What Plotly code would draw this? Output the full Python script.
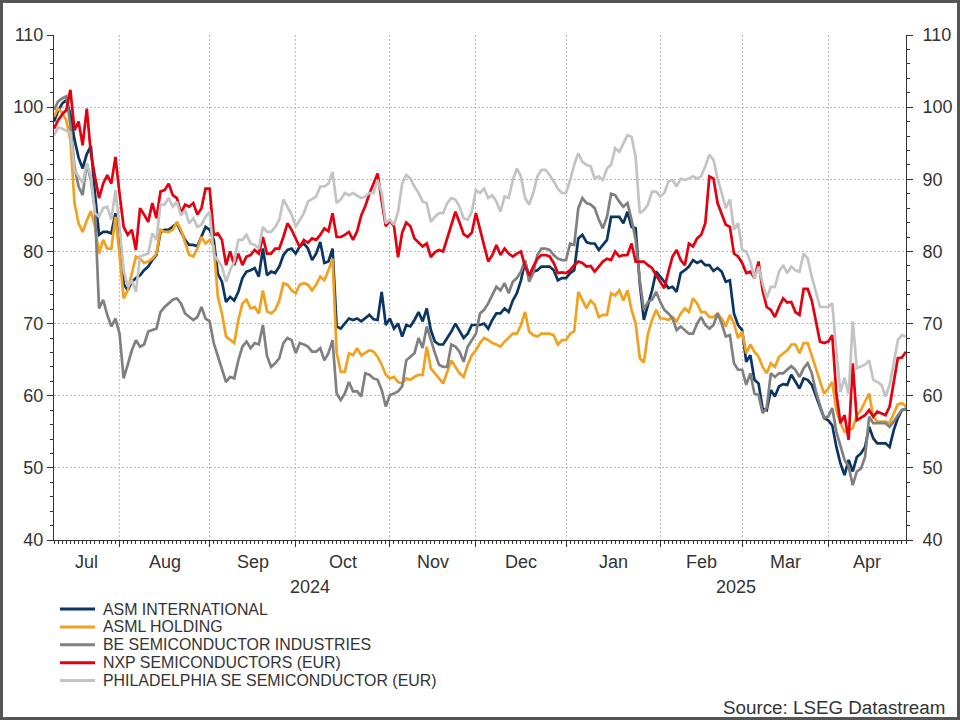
import pandas as pd
import plotly.graph_objects as go

# ---------------- data (weekday series, rebased) ----------------
START_DATE = "2024-07-10"
N_DAYS = 209
dates = pd.bdate_range(START_DATE, periods=N_DAYS)

SERIES_NAMES = ["ASM INTERNATIONAL", "ASML HOLDING", "BE SEMICONDUCTOR INDUSTRIES",
                "NXP SEMICONDUCTORS (EUR)", "PHILADELPHIA SE SEMICONDUCTOR (EUR)"]
SERIES_COLORS = ["#0b3562", "#f2a11f", "#808080", "#e3000f", "#c3c3c3"]

MONTH_LABELS = ["Jul", "Aug", "Sep", "Oct", "Nov", "Dec", "Jan", "Feb", "Mar", "Apr"]
YEAR_LABELS = ["2024", "2025"]
SOURCE_TEXT = "Source: LSEG Datastream"

asm = [
    98.0, 99.5, 100.5, 101.0, 99.0, 95.5, 93.0, 91.5, 93.5, 94.6,
    88.0, 82.3, 82.7, 82.7, 82.5, 85.3, 82.8, 75.5, 74.6, 75.8,
    76.3, 76.7, 77.4, 77.9, 78.8, 79.5, 82.7, 83.0, 83.0, 83.4,
    83.9, 82.7, 81.6, 80.9, 80.9, 80.7, 82.0, 83.4, 83.0, 81.6,
    76.9, 75.8, 73.0, 73.7, 73.2, 74.4, 76.3, 77.2, 77.4, 77.7,
    76.5, 80.4, 76.7, 77.2, 77.0, 77.9, 79.5, 80.2, 80.4, 79.7,
    80.7, 81.1, 80.4, 78.8, 79.7, 81.3, 78.4, 78.6, 80.4, 69.6,
    69.3, 70.0, 70.7, 70.5, 70.7, 70.3, 70.7, 71.2, 70.6, 70.5,
    74.4, 69.8, 70.7, 69.3, 70.0, 68.2, 69.8, 69.6, 70.5, 71.6,
    70.3, 72.1, 69.1, 67.5, 67.1, 67.1, 68.0, 68.9, 70.0, 68.9,
    68.0, 68.6, 69.8, 69.8, 69.8, 70.0, 69.3, 70.5, 71.4, 71.4,
    72.1, 71.6, 73.2, 74.2, 76.0, 78.6, 76.5, 77.2, 77.4, 77.9,
    77.9, 77.9, 77.4, 76.0, 76.3, 76.3, 77.0, 77.4, 81.8, 82.3,
    81.3, 81.1, 81.1, 80.2, 80.9, 81.6, 84.8, 84.8, 84.8, 83.9,
    85.5, 83.4, 83.2, 75.6, 70.5, 72.6, 74.6, 77.2, 76.5, 75.8,
    74.9, 75.1, 74.4, 77.0, 77.4, 77.9, 78.8,
    78.4, 78.7, 78.1, 78.1, 77.3, 77.7, 77.2, 75.8, 76.0, 71.4,
    69.8, 69.1, 64.7, 65.6, 62.2, 61.7, 58.2, 58.0, 60.8, 59.9,
    61.3, 61.6, 61.5, 62.9, 61.9, 61.0, 62.4, 62.2, 61.5, 59.9,
    58.2, 56.9, 56.6, 55.9, 52.9, 50.6, 49.0, 51.1, 49.5, 51.5,
    52.0, 52.9, 55.7, 54.1, 53.4, 53.4, 53.4, 52.9, 55.2, 56.9,
    58.0, 58.2,
]

asml = [
    98.7, 99.8, 99.2, 98.2, 95.5, 86.7, 83.9, 82.7, 84.3, 85.6,
    83.4, 79.7, 81.6, 80.4, 80.4, 84.8, 79.5, 73.5, 74.6, 76.9,
    79.3, 79.0, 78.4, 78.6, 79.0, 79.7, 83.0, 82.7, 82.7, 83.0,
    84.1, 83.0, 81.1, 79.5, 79.3, 80.4, 82.0, 81.1, 81.6, 80.7,
    73.7, 71.4, 68.2, 67.7, 67.3, 70.5, 72.8, 73.3, 72.1, 72.3,
    71.4, 74.6, 71.7, 71.4, 71.9, 73.2, 75.6, 75.4, 74.6, 74.2,
    75.4, 75.6, 75.4, 74.6, 75.4, 76.5, 76.0, 77.4, 79.0, 66.0,
    63.3, 63.3, 65.9, 65.6, 66.6, 65.6, 65.9, 66.3, 66.1, 65.4,
    64.3, 62.9, 62.4, 62.6, 61.9, 61.7, 62.4, 62.2, 62.6, 62.9,
    62.9, 66.8, 63.8, 63.1, 62.4, 61.7, 63.3, 64.9, 64.0, 63.1,
    62.6, 64.3, 65.6, 66.3, 67.3, 68.0, 67.7, 67.3, 67.1, 66.8,
    67.5, 68.0, 68.6, 68.6, 69.8, 71.6, 68.9, 68.4, 68.2, 68.6,
    68.6, 68.6, 68.4, 67.1, 67.7, 67.7, 68.6, 68.9, 74.4, 73.2,
    72.1, 73.2, 72.6, 70.9, 71.2, 71.2, 74.2, 73.9, 74.6, 73.2,
    74.6, 71.9, 70.0, 65.2, 64.6, 68.6, 70.5, 71.9, 70.7, 70.7,
    70.5, 70.9, 70.3, 71.4, 72.1, 71.6, 73.5,
    72.8, 71.6, 71.6, 70.9, 70.9, 71.4, 70.7, 69.6, 71.2, 70.0,
    68.0, 68.9, 65.9, 67.1, 66.1, 65.4, 64.0, 63.1, 64.5, 64.0,
    65.4, 65.9, 66.3, 67.1, 67.1, 65.9, 67.3, 67.3, 65.6, 64.0,
    62.2, 60.3, 61.0, 61.9, 58.0, 56.2, 55.0, 55.3, 55.5, 57.3,
    58.0, 59.2, 60.3, 57.1, 56.4, 56.4, 56.4, 56.2, 57.6, 58.8,
    59.0, 58.5,
]

besi = [
    99.6, 100.8, 101.2, 101.5, 97.5, 91.8, 89.0, 87.8, 92.2, 89.9,
    85.7, 72.1, 73.3, 71.2, 69.6, 70.7, 68.6, 62.4, 64.3, 66.3,
    67.7, 66.8, 67.1, 68.9, 69.1, 69.3, 71.6, 72.3, 72.8, 73.3,
    73.5, 72.8, 71.4, 70.9, 70.5, 70.9, 72.3, 70.7, 70.3, 67.3,
    65.4, 63.6, 61.9, 62.6, 62.4, 64.9, 66.8, 67.5, 66.6, 67.3,
    67.1, 69.8, 65.5, 64.0, 64.5, 65.2, 67.3, 68.0, 67.7, 65.9,
    67.3, 67.1, 66.8, 66.1, 66.1, 66.6, 64.9, 65.9, 67.7, 60.3,
    59.4, 60.3, 61.9, 60.6, 60.6, 59.9, 63.1, 62.9, 62.4, 62.2,
    60.8, 58.5, 60.1, 60.3, 60.6, 61.3, 64.9, 65.4, 65.9, 68.0,
    66.6, 69.6, 67.7, 65.9, 64.3, 64.0, 64.0, 67.1, 66.8, 66.1,
    64.7, 66.8, 67.7, 68.6, 71.4, 71.9, 72.8, 74.0, 75.1, 74.6,
    75.6, 74.2, 75.8, 76.3, 77.2, 78.8, 75.8, 77.0, 79.5, 80.4,
    80.4, 80.2, 79.5, 79.0, 78.8, 78.8, 81.1, 80.9, 86.0, 87.4,
    86.7, 86.5, 86.0, 84.4, 83.2, 84.8, 88.0, 87.8, 86.9, 86.2,
    86.7, 84.4, 81.6, 76.0, 71.9, 73.0, 73.3, 74.4, 73.0, 71.9,
    71.4, 70.7, 69.1, 69.6, 69.1, 68.6, 68.6,
    70.0, 70.9, 69.8, 69.3, 69.8, 71.4, 70.0, 68.2, 68.4, 64.5,
    63.6, 63.6, 61.5, 63.1, 60.3, 60.1, 57.6, 58.3, 63.1, 62.6,
    63.1, 63.1, 63.6, 64.1, 63.6, 62.6, 63.8, 64.5, 63.1, 60.6,
    58.7, 56.9, 57.1, 58.3, 55.0, 52.9, 51.1, 50.2, 47.6, 49.5,
    49.9, 51.5, 57.1, 56.2, 56.2, 56.2, 56.2, 55.7, 56.4, 57.3,
    58.0, 58.2,
]

nxp = [
    97.0, 98.2, 99.0, 99.6, 102.4, 96.8, 98.0, 94.7, 99.8, 93.6,
    90.4, 87.4, 89.4, 90.6, 89.4, 93.1, 88.0, 83.4, 82.3, 83.0,
    80.2, 86.0, 85.1, 84.1, 86.7, 84.6, 88.3, 88.5, 89.4, 87.8,
    87.4, 85.3, 86.5, 86.2, 86.7, 85.1, 86.0, 88.7, 88.7, 82.3,
    82.5, 81.6, 78.1, 80.0, 78.1, 79.7, 78.1, 79.3, 79.5, 80.2,
    79.7, 82.0, 79.7, 79.7, 80.4, 80.4, 82.0, 83.9, 83.0, 81.8,
    80.6, 81.6, 81.2, 81.8, 81.6, 82.3, 83.2, 82.8, 85.3, 82.0,
    82.0, 82.3, 82.7, 81.6, 82.8, 85.0, 86.3, 88.0, 89.5, 90.8,
    87.0, 83.5, 84.3, 83.5, 79.2, 82.6, 84.0, 83.5, 81.8, 81.2,
    80.7, 81.1, 79.2, 79.9, 80.2, 80.0, 81.8, 83.8, 85.5, 84.0,
    82.4, 82.0, 82.6, 85.3, 83.0, 80.5, 78.6, 79.5, 80.9, 79.5,
    80.4, 79.7, 79.3, 79.7, 80.0, 77.9, 76.7, 77.9, 79.0, 79.5,
    79.5, 79.3, 78.4, 77.0, 77.1, 77.0, 77.4, 78.1, 78.6, 78.4,
    77.9, 78.0, 77.2, 77.9, 78.6, 79.0, 78.8, 80.0, 79.3, 79.5,
    79.5, 81.1, 78.6, 78.6, 78.6, 78.1, 77.7, 76.7, 75.8, 74.9,
    77.2, 79.3, 80.2, 78.8, 78.1, 81.1, 80.7,
    81.8, 82.3, 83.9, 90.4, 90.1, 86.7, 85.3, 83.7, 83.4, 79.7,
    79.3, 78.4, 77.0, 77.2, 76.3, 78.6, 74.6, 72.3, 71.9, 70.9,
    72.3, 73.5, 72.9, 73.0, 71.6, 71.2, 74.8, 74.8, 73.2, 70.5,
    67.5, 67.3, 67.5, 68.4, 60.3, 56.2, 57.3, 53.9, 64.5, 56.6,
    57.0, 57.3, 58.0, 57.1, 57.8, 57.6, 57.3, 58.5, 61.7, 65.2,
    65.3, 66.1,
]

phlx = [
    96.1, 97.2, 97.0, 96.8, 96.5, 91.3, 90.4, 89.5, 92.2, 90.4,
    85.3, 84.8, 86.0, 86.2, 84.4, 88.5, 83.4, 77.4, 75.1, 76.0,
    74.4, 79.3, 79.5, 79.7, 82.5, 81.6, 86.5, 86.5, 87.4, 86.2,
    86.9, 85.0, 85.7, 83.9, 84.6, 83.4, 83.7, 84.8, 85.5, 79.5,
    78.8, 77.9, 75.8, 77.4, 78.6, 81.6, 81.6, 82.3, 81.1, 80.9,
    80.4, 83.4, 82.7, 82.7, 83.4, 84.4, 87.2, 86.2, 85.1, 83.4,
    84.4, 85.3, 86.9, 87.2, 87.6, 89.0, 89.0, 89.4, 91.0, 86.7,
    87.2, 88.1, 87.8, 88.1, 87.8, 87.4, 87.6, 88.1, 88.1, 89.9,
    88.1, 83.9, 84.4, 83.7, 85.5, 89.4, 90.6, 90.1, 89.0, 88.1,
    86.9, 86.7, 84.1, 84.8, 85.3, 85.3, 86.7, 87.4, 87.2, 86.2,
    84.6, 84.4, 85.5, 88.5, 88.1, 88.7, 87.4, 87.8, 86.9, 85.5,
    87.6, 87.4, 89.9, 91.5, 90.4, 87.4, 86.5, 88.1, 90.4, 91.3,
    91.3, 90.6, 89.7, 88.7, 88.1, 88.1, 89.9, 92.0, 93.6, 92.4,
    92.0, 91.8, 90.1, 90.4, 89.9, 91.5, 92.0, 94.3, 93.8, 95.0,
    96.1, 95.9, 93.1, 85.3, 85.7, 86.5, 88.3, 88.3, 87.6, 88.1,
    89.7, 89.9, 89.0, 90.1, 89.9, 90.1, 90.4,
    90.1, 90.4, 91.8, 93.4, 92.7, 90.1, 88.1, 86.0, 87.2, 83.0,
    83.9, 80.2, 80.0, 78.6, 76.3, 77.9, 75.6, 73.5, 75.1, 75.1,
    77.2, 78.1, 77.0, 77.9, 77.4, 77.2, 79.7, 79.0, 76.5, 74.4,
    72.3, 72.3, 72.3, 72.8, 66.0, 60.5, 62.5, 60.2, 70.3, 63.8,
    64.0, 64.3, 64.9, 62.2, 61.9, 61.5, 59.9, 61.5, 64.5, 67.7,
    68.4, 68.2,
]

SERIES = [asm, asml, besi, nxp, phlx]
for s in SERIES:
    assert len(s) == N_DAYS, len(s)

# ---------------- geometry helpers (page pixels -> paper) ----------------
W, H = 960, 720
ML, MR, MT, MB = 54, 54, 35, 180
PW, PH = W - ML - MR, H - MT - MB


def px_x(px):
    return (px - ML) / PW


def px_y(py):
    return (H - MB - py) / PH


# month / year spans derived from the dates
months = dates.to_period("M")
m_starts = [0] + [i for i in range(1, N_DAYS) if months[i] != months[i - 1]]
m_ends = m_starts[1:] + [N_DAYS - 1]
assert len(m_starts) == len(MONTH_LABELS)
years = dates.year
y_starts = [0] + [i for i in range(1, N_DAYS) if years[i] != years[i - 1]]
y_ends = y_starts[1:] + [N_DAYS - 1]
month_tickvals = [dates[i] for i in m_starts[1:]]

FONT = "Liberation Sans, Arial, Helvetica, sans-serif"
TXT = "#333333"
GRID = "#b9b9b9"
GRID_DASH = "2px,2px"

fig = go.Figure()
for name, color, vals in zip(SERIES_NAMES, SERIES_COLORS, SERIES):
    fig.add_trace(go.Scatter(x=dates, y=vals, mode="lines", name=name,
                             line=dict(color=color, width=2.7),
                             showlegend=False, hoverinfo="skip"))
# invisible trace so the right-hand axis is drawn
fig.add_trace(go.Scatter(x=dates, y=phlx, yaxis="y2", mode="lines",
                         line=dict(width=0), opacity=0, showlegend=False,
                         hoverinfo="skip"))

yaxis_common = dict(range=[40, 110], tick0=40, dtick=10, ticks="outside", ticklen=6,
                    tickwidth=1, tickcolor=TXT, showline=True, linecolor=TXT,
                    linewidth=1, zeroline=False,
                    tickfont=dict(family=FONT, size=18, color=TXT),
                    minor=dict(tick0=40, dtick=2, ticks="outside", ticklen=3,
                               tickcolor=TXT, showgrid=False))

fig.update_layout(
    width=W, height=H,
    margin=dict(l=ML, r=MR, t=MT, b=MB, autoexpand=False),
    paper_bgcolor="white", plot_bgcolor="white", showlegend=False,
    xaxis=dict(type="date", range=[dates[0], dates[-1]],
               rangebreaks=[dict(bounds=["sat", "mon"])],
               tickmode="array", tickvals=month_tickvals, showticklabels=False,
               ticks="outside", ticklen=6, tickwidth=1, tickcolor=TXT,
               showgrid=True, gridcolor=GRID, griddash=GRID_DASH, gridwidth=1,
               showline=True, linecolor=TXT, linewidth=1, zeroline=False,
               minor=dict(tickmode="array", tickvals=list(dates), ticks="outside",
                          ticklen=3, tickcolor=TXT, showgrid=False)),
    yaxis=dict(**yaxis_common, showgrid=True, gridcolor=GRID, griddash=GRID_DASH,
               gridwidth=1, ticklabelstandoff=0),
    yaxis2=dict(**yaxis_common, overlaying="y", side="right", showgrid=False,
                ticklabelstandoff=6),
)

annotations = []
# month labels centred in each month's span
for lab, s, e in zip(MONTH_LABELS, m_starts, m_ends):
    annotations.append(dict(text=lab, xref="paper", yref="paper",
                            x=(s + e) / 2 / (N_DAYS - 1), y=px_y(562),
                            xanchor="center", yanchor="middle", showarrow=False,
                            font=dict(family=FONT, size=18, color=TXT)))
# year labels
for lab, s, e in zip(YEAR_LABELS, y_starts, y_ends):
    annotations.append(dict(text=lab, xref="paper", yref="paper",
                            x=(s + e) / 2 / (N_DAYS - 1), y=px_y(587),
                            xanchor="center", yanchor="middle", showarrow=False,
                            font=dict(family=FONT, size=18, color=TXT)))

shapes = []
# legend (vertical list under the chart)
LEG_Y0, LEG_DY = 609, 17.9
for k, (name, color) in enumerate(zip(SERIES_NAMES, SERIES_COLORS)):
    yk = px_y(LEG_Y0 + LEG_DY * k)
    shapes.append(dict(type="line", xref="paper", yref="paper",
                       x0=px_x(60), x1=px_x(95), y0=yk, y1=yk,
                       line=dict(color=color, width=3)))
    annotations.append(dict(text=name, xref="paper", yref="paper",
                            x=px_x(101), y=yk, xanchor="left", yanchor="middle",
                            showarrow=False,
                            font=dict(family=FONT, size=15.9, color=TXT)))

annotations.append(dict(text=SOURCE_TEXT, xref="paper", yref="paper",
                        x=px_x(947), y=px_y(707), xanchor="right", yanchor="middle",
                        showarrow=False, font=dict(family=FONT, size=18.8, color=TXT)))

# outer frame
shapes.append(dict(type="rect", xref="paper", yref="paper",
                   x0=px_x(1.5), x1=px_x(958.5), y0=px_y(718.5), y1=px_y(1.5),
                   line=dict(color="#555555", width=3), fillcolor="rgba(0,0,0,0)"))

fig.update_layout(annotations=annotations, shapes=shapes)
fig.write_html("out.html")
